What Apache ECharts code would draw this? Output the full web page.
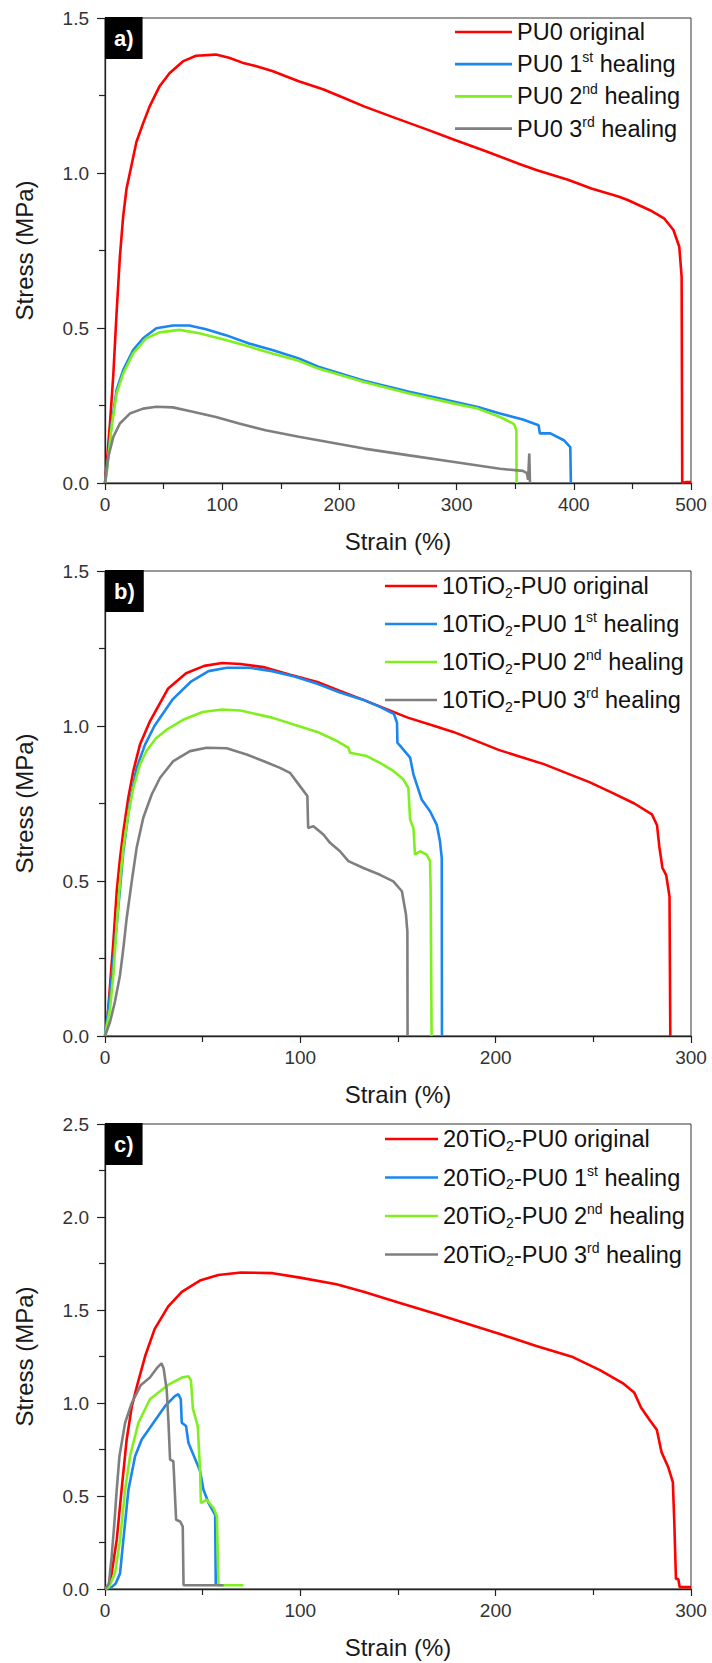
<!DOCTYPE html>
<html>
<head>
<meta charset="utf-8">
<script src="https://cdn.jsdelivr.net/npm/echarts@6/dist/echarts.min.js"></script>
<style>
html,body{margin:0;padding:0;background:#fff;}
#main{width:712px;height:1663px;}
</style>
</head>
<body>
<div id="main"></div>
<script>
// ---------- DATA (strain %, stress MPa) ----------
const namesA = ['PU0 original', 'PU0 1st healing', 'PU0 2nd healing', 'PU0 3rd healing'];
const namesB = ['10TiO2-PU0 original', '10TiO2-PU0 1st healing', '10TiO2-PU0 2nd healing', '10TiO2-PU0 3rd healing'];
const namesC = ['20TiO2-PU0 original', '20TiO2-PU0 1st healing', '20TiO2-PU0 2nd healing', '20TiO2-PU0 3rd healing'];
const panelLabels = ['a)', 'b)', 'c)'];
const xMax = [500, 300, 300];
const xStep = [100, 100, 100];
const yMax = [1.5, 1.5, 2.5];
const yStep = [0.5, 0.5, 0.5];

const a_original = [[0,0],[1.4,0.06],[4.2,0.19],[7.1,0.35],[9.9,0.55],[12.7,0.73],[15.5,0.86],[18.4,0.95],[21.2,1.0],[24,1.05],[26.8,1.1],[32.5,1.16],[38.1,1.215],[46.6,1.28],[55,1.322],[66.4,1.36],[77.7,1.378],[94.6,1.382],[105.9,1.372],[117.2,1.356],[128.5,1.345],[142.7,1.329],[165.3,1.296],[186,1.27],[201,1.247],[221,1.215],[248,1.177],[275,1.14],[298,1.107],[325,1.07],[353,1.03],[368,1.01],[395,0.978],[415,0.95],[438,0.924],[446,0.913],[465,0.88],[477,0.854],[485,0.816],[490,0.762],[492,0.665],[492.3,0.3],[492.5,0],[496,0.003],[500,0.003]];
const a_heal1 = [[0,0],[2.8,0.084],[5.6,0.19],[9.9,0.3],[15.5,0.364],[24,0.429],[32.5,0.467],[43.8,0.499],[57.9,0.508],[72,0.508],[86.2,0.496],[103.1,0.477],[122.9,0.45],[142.7,0.429],[165.3,0.402],[182,0.375],[221,0.33],[259.5,0.294],[279,0.278],[298,0.262],[318,0.245],[337,0.224],[356.5,0.205],[370,0.186],[371,0.16],[380,0.16],[391.5,0.138],[397,0.116],[397.5,0]];
const a_heal2 = [[0,0],[1.4,0.03],[5.6,0.18],[9.9,0.289],[15.5,0.353],[24,0.418],[35.3,0.467],[46.6,0.486],[63.6,0.494],[80.5,0.483],[103.1,0.461],[122.9,0.44],[142.7,0.418],[165.3,0.394],[182,0.369],[221,0.326],[259.5,0.289],[298,0.256],[318,0.24],[337,0.213],[349,0.19],[351,0.17],[351.2,0]];
const a_heal3 = [[0,0],[2.8,0.084],[7.1,0.149],[12.7,0.192],[21.2,0.224],[32.5,0.24],[43.8,0.246],[57.9,0.244],[74.9,0.23],[94.6,0.213],[114.4,0.192],[137,0.17],[165.3,0.149],[182,0.138],[221,0.111],[259.5,0.089],[298,0.068],[337,0.046],[356.5,0.039],[360,0.032],[361,0.01],[362,0.095],[362.6,0]];

const b_original = [[0,0],[0.9,0.025],[4.3,0.305],[6,0.467],[7.7,0.574],[9.4,0.66],[11.9,0.768],[14.5,0.855],[17.9,0.94],[23,1.015],[32.2,1.12],[41.5,1.17],[50.8,1.194],[60,1.203],[69.3,1.2],[81,1.19],[94.8,1.165],[108.7,1.142],[120.3,1.113],[132,1.085],[143.5,1.056],[155,1.027],[166.7,1.004],[178.3,0.981],[190,0.952],[201.5,0.923],[213,0.9],[224.7,0.877],[236.3,0.848],[248,0.819],[259.5,0.785],[271,0.75],[280,0.715],[282.6,0.68],[283.8,0.61],[285.4,0.542],[287.3,0.519],[289,0.45],[289.4,0]];
const b_heal1 = [[0,0],[2,0.1],[4.4,0.25],[6.8,0.413],[9.4,0.596],[12.8,0.757],[16.2,0.865],[20.5,0.94],[25.3,1.0],[34.5,1.085],[43.8,1.142],[53,1.177],[62.4,1.188],[74,1.188],[85.5,1.177],[97,1.16],[108.7,1.136],[120.3,1.108],[132,1.085],[141,1.061],[148,1.038],[149.5,1.01],[149.7,0.946],[151.9,0.93],[156.2,0.898],[157.9,0.844],[162.1,0.763],[166.4,0.725],[169.8,0.682],[171.5,0.628],[172.4,0.574],[172.5,0]];
const b_heal2 = [[0,0],[2.6,0.089],[4.3,0.197],[6,0.359],[7.7,0.499],[9.4,0.607],[11.9,0.714],[14.5,0.8],[17.9,0.876],[21.3,0.92],[26,0.96],[32,0.99],[40,1.02],[50,1.045],[60,1.053],[69.3,1.05],[85.5,1.027],[97,1.004],[108.7,0.981],[117.7,0.955],[124.6,0.93],[125.4,0.914],[134,0.903],[140.8,0.881],[147.6,0.855],[152.7,0.828],[155.3,0.8],[156.2,0.698],[157.9,0.671],[158.7,0.585],[161.3,0.596],[164.7,0.585],[166.4,0.564],[166.7,0.477],[167.2,0]];
const b_heal3 = [[0,0],[2.6,0.046],[5.1,0.111],[7.7,0.197],[9.4,0.283],[11.1,0.38],[13.7,0.499],[16.2,0.607],[19.6,0.704],[23.9,0.779],[28.2,0.833],[35,0.887],[43.5,0.919],[52,0.93],[62.3,0.928],[72.5,0.908],[81,0.887],[89.6,0.865],[94.7,0.849],[99.8,0.806],[103.6,0.774],[104,0.671],[106.7,0.677],[111.8,0.65],[115.2,0.623],[120.3,0.596],[124.6,0.564],[132.3,0.542],[140.8,0.52],[147.6,0.499],[152,0.467],[154.1,0.391],[154.8,0.337],[154.9,0]];

const c_original = [[0,0],[2,0.02],[3.4,0.084],[6,0.264],[8.5,0.534],[11.1,0.804],[13.7,0.98],[16.6,1.1],[20.7,1.257],[25.4,1.397],[32.3,1.518],[39.3,1.598],[48.6,1.658],[58,1.688],[69.6,1.702],[85.9,1.698],[99.8,1.674],[118.5,1.638],[132.4,1.598],[151,1.538],[169.7,1.478],[188.3,1.417],[202.2,1.371],[220.8,1.307],[239.5,1.247],[253.4,1.177],[265,1.107],[270.9,1.057],[274.4,0.976],[279,0.906],[282.5,0.856],[284.9,0.736],[288.3,0.656],[290.7,0.575],[291.4,0.375],[292.3,0.054],[293.5,0.054],[294.2,0.01],[300,0.01]];
const c_heal1 = [[0,0],[3.4,0.01],[5.5,0.03],[7.7,0.084],[9.4,0.264],[12,0.534],[15.4,0.714],[18.8,0.804],[24.8,0.894],[30.8,0.984],[35.9,1.038],[37.6,1.047],[38.8,1.02],[39.3,0.894],[41.5,0.876],[42.7,0.786],[47,0.678],[48.7,0.633],[50.4,0.534],[53,0.462],[56.4,0.399],[56.7,0.02],[57,0.02]];
const c_heal2 = [[0,0],[2,0.01],[5.1,0.084],[7.7,0.264],[10.3,0.534],[12.8,0.714],[17.1,0.894],[23,1.02],[29,1.07],[32.3,1.097],[39.3,1.137],[42.8,1.143],[44,1.12],[45,0.97],[47.5,0.876],[48.7,0.624],[49.1,0.462],[52.1,0.48],[55.6,0.435],[57.3,0.39],[58.1,0.02],[70.9,0.02]];
const c_heal3 = [[0,0],[2,0.03],[3.4,0.174],[4.8,0.354],[6,0.534],[7.4,0.714],[10.3,0.894],[13.7,1.0],[18.4,1.097],[23,1.137],[26.5,1.187],[28.9,1.213],[30,1.187],[31.6,1.07],[32.5,0.894],[33.3,0.696],[35,0.687],[36.4,0.372],[38.5,0.363],[39.8,0.336],[40.2,0.02],[60.7,0.02]];

const seriesColors = ['#ff0000', '#1a86f0', '#7ff01e', '#7f7f7f'];

// ---------- LAYOUT ----------
const FONT = '"Liberation Sans", Arial, sans-serif';
const gridTops = [18, 571, 1124];
const gridH = 465;
const legendLeft = [455, 385, 385];
const legendTop = [18, 572, 1125];
const legendGap = [4.2, 10, 10.5];
const legendIconW = [57, 52, 53];

const panels = [
  {names: namesA, data: [a_original, a_heal1, a_heal2, a_heal3]},
  {names: namesB, data: [b_original, b_heal1, b_heal2, b_heal3]},
  {names: namesC, data: [c_original, c_heal1, c_heal2, c_heal3]}
];

function richName(name) {
  return name.replace('TiO2', 'TiO{sub|2}').replace(/(\d)(st|nd|rd) /, '$1{sup|$2} ');
}

const axisColor = '#222';
const grids = [], xAxes = [], yAxes = [], legends = [], titles = [], series = [];
panels.forEach((p, i) => {
  grids.push({left: 105, right: 21, top: gridTops[i], height: gridH, show: true,
    borderColor: '#333', borderWidth: 1, backgroundColor: 'transparent', outerBoundsMode: 'none'});
  xAxes.push({type: 'value', gridIndex: i, min: 0, max: xMax[i], interval: xStep[i],
    name: 'Strain (%)', nameLocation: 'middle', nameGap: 46,
    nameTextStyle: {fontSize: 24, color: '#1a1a1a', fontFamily: FONT},
    axisLine: {show: true, onZero: false, lineStyle: {color: axisColor, width: 1.3}},
    axisTick: {show: true, length: 7, lineStyle: {color: axisColor, width: 1.2}},
    minorTick: {show: true, splitNumber: 2, length: 6, lineStyle: {color: axisColor, width: 1.2}},
    splitLine: {show: false}, minorSplitLine: {show: false},
    axisLabel: {fontSize: 19, color: '#333', margin: 12, fontFamily: FONT}});
  yAxes.push({type: 'value', gridIndex: i, min: 0, max: yMax[i], interval: yStep[i],
    name: 'Stress (MPa)', nameLocation: 'middle', nameGap: 69,
    nameTextStyle: {fontSize: 24, color: '#1a1a1a', fontFamily: FONT},
    axisLine: {show: true, onZero: false, lineStyle: {color: axisColor, width: 1.3}},
    axisTick: {show: true, length: 8, lineStyle: {color: axisColor, width: 1.2}},
    minorTick: {show: true, splitNumber: 2, length: 6, lineStyle: {color: axisColor, width: 1.2}},
    splitLine: {show: false}, minorSplitLine: {show: false},
    axisLabel: {fontSize: 19, color: '#333', margin: 16, fontFamily: FONT,
      formatter: v => v.toFixed(1)}});
  legends.push({orient: 'vertical', left: legendLeft[i], top: legendTop[i], padding: 0,
    itemGap: legendGap[i], itemWidth: legendIconW[i], itemHeight: 2.7, selectedMode: false,
    data: p.names, icon: 'rect',
    formatter: richName,
    textStyle: {fontSize: 23.5, lineHeight: 28, color: '#111', fontFamily: FONT,
      rich: {
        sup: {fontSize: 14, lineHeight: 14, verticalAlign: 'top', color: '#111', fontFamily: FONT},
        sub: {fontSize: 14, lineHeight: 14, verticalAlign: 'bottom', color: '#111', fontFamily: FONT}
      }}});
  titles.push({text: panelLabels[i], left: 105, top: gridTops[i] - 1, padding: [9, 9, 9, 9],
    backgroundColor: '#000',
    textStyle: {color: '#fff', fontSize: 22, fontWeight: 'bold', lineHeight: 24, fontFamily: FONT}});
  p.names.forEach((n, k) => {
    series.push({type: 'line', name: n, xAxisIndex: i, yAxisIndex: i, data: p.data[k],
      showSymbol: false, symbol: 'none', color: seriesColors[k],
      lineStyle: {width: 2.6, color: seriesColors[k]}, z: 2 + k});
  });
});

const chart = echarts.init(document.getElementById('main'), null, {renderer: 'svg', width: 712, height: 1663});
chart.setOption({
  animation: false,
  backgroundColor: '#fff',
  title: titles, grid: grids, xAxis: xAxes, yAxis: yAxes, legend: legends, series: series
});
</script>
</body>
</html>
